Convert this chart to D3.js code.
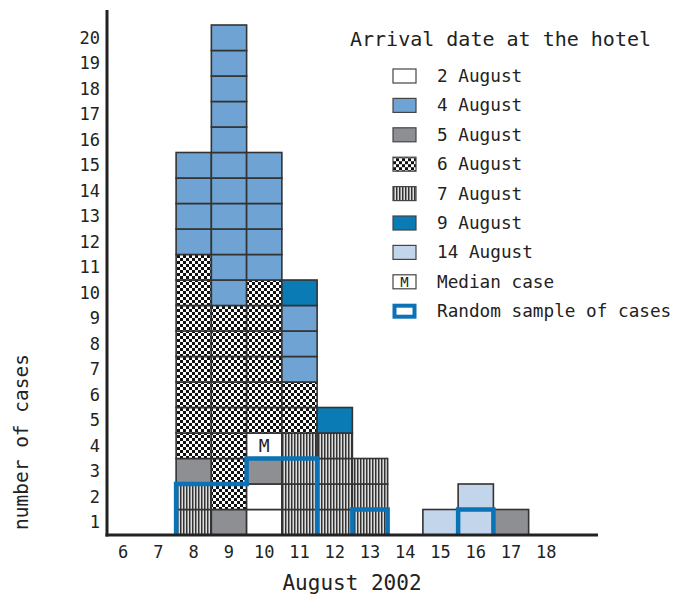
<!DOCTYPE html>
<html><head><meta charset="utf-8">
<script src="https://cdn.jsdelivr.net/npm/d3@7"></script>
<style>body{margin:0;background:#fff}svg{display:block}text{font-family:"DejaVu Sans Mono","Liberation Mono",monospace;fill:#222}</style>
</head><body><svg id="c" width="674" height="600"></svg>
<script>
// ---- data ----
const dayTicks = [6,7,8,9,10,11,12,13,14,15,16,17,18];
const yTicks = [1,2,3,4,5,6,7,8,9,10,11,12,13,14,15,16,17,18,19,20];
const categories = ["2 August","4 August","5 August","6 August","7 August","9 August","14 August"];
const caseDays = [8, 9, 10, 11, 12, 13, 15, 16, 17];
// stacks bottom→top, arrival category per case ("M" = median case)
const stack8  = ["7 August","7 August","5 August","6 August","6 August","6 August","6 August","6 August","6 August","6 August","6 August","4 August","4 August","4 August","4 August"];
const stack9  = ["5 August","6 August","6 August","6 August","6 August","6 August","6 August","6 August","6 August","4 August","4 August","4 August","4 August","4 August","4 August","4 August","4 August","4 August","4 August","4 August"];
const stack10 = ["2 August","2 August","5 August","M","6 August","6 August","6 August","6 August","6 August","6 August","4 August","4 August","4 August","4 August","4 August"];
const stack11 = ["7 August","7 August","7 August","7 August","6 August","6 August","4 August","4 August","4 August","9 August"];
const stack12 = ["7 August","7 August","7 August","7 August","9 August"];
const stack13 = ["7 August","7 August","7 August"];
const stack15 = ["14 August"];
const stack16 = ["14 August","14 August"];
const stack17 = ["5 August"];
const stacks = [stack8, stack9, stack10, stack11, stack12, stack13, stack15, stack16, stack17];
const sampleRows = [2, 2, 3, 3, 0, 1, 0, 1, 0];
const legendLabels = ["2 August","4 August","5 August","6 August","7 August","9 August","14 August","Median case","Random sample of cases"];

// ---- styles ----
const svg = d3.select("#c");
const defs = svg.append("defs");
const chk = defs.append("pattern").attr("id","chk").attr("patternUnits","userSpaceOnUse").attr("width",6).attr("height",6);
chk.append("rect").attr("width",6).attr("height",6).attr("fill","#fff");
chk.append("rect").attr("width",3).attr("height",3).attr("fill","#111");
chk.append("rect").attr("x",3).attr("y",3).attr("width",3).attr("height",3).attr("fill","#111");
const str = defs.append("pattern").attr("id","str").attr("patternUnits","userSpaceOnUse").attr("width",3).attr("height",6);
str.append("rect").attr("width",3).attr("height",6).attr("fill","#8a8a8a");
str.append("rect").attr("width",1).attr("height",6).attr("fill","#333");
str.append("rect").attr("x",2).attr("width",1).attr("height",6).attr("fill","#ddd");
const fills = {"2 August":"#ffffff","4 August":"#6fa3d3","5 August":"#8e8f93","6 August":"url(#chk)","7 August":"url(#str)","9 August":"#0b7bb5","14 August":"#c3d5eb","M":"#ffffff"};
const blue = "#0a72b5";

const x = d3.scaleBand().domain(dayTicks).range([105.6, 563.9]).paddingInner(0).paddingOuter(0);
const y = d3.scaleLinear().domain([0, 20]).range([535, 25]);

// cells
const cells = [];
caseDays.forEach((d, i) => stacks[i].forEach((c, k) => cells.push({day: d, row: k, cat: c})));
const g = svg.append("g");
g.selectAll("rect.cell").data(cells).join("rect").attr("class","cell")
  .attr("x", d => x(d.day)).attr("y", d => y(d.row + 1))
  .attr("width", x.bandwidth()).attr("height", y(0) - y(1))
  .attr("fill", d => fills[d.cat]).attr("stroke", "#333").attr("stroke-width", 1.6);
g.selectAll("text.m").data(cells.filter(d => d.cat === "M")).join("text").attr("class","m")
  .attr("x", d => x(d.day) + x.bandwidth()/2).attr("y", d => y(d.row + 0.5) + 6)
  .attr("text-anchor","middle").attr("font-size", 18).text("M");

// sample outline
let runs = [], cur = null;
caseDays.forEach((d, i) => {
  const h = sampleRows[i];
  if (h > 0 && cur && dayTicks.indexOf(d) === dayTicks.indexOf(cur[cur.length-1].day) + 1) cur.push({day: d, h});
  else if (h > 0) { cur = [{day: d, h}]; runs.push(cur); }
  else cur = null;
});
runs.forEach(r => {
  const pts = [[x(r[0].day), y(0)]];
  r.forEach(c => { pts.push([x(c.day), y(c.h)]); pts.push([x(c.day) + x.bandwidth(), y(c.h)]); });
  pts.push([x(r[r.length-1].day) + x.bandwidth(), y(0)]);
  svg.append("path").attr("d", d3.line()(pts)).attr("fill","none").attr("stroke", blue).attr("stroke-width", 4.5).attr("stroke-linejoin","miter");
});

// axes
svg.append("line").attr("x1",107).attr("x2",107).attr("y1",10).attr("y2",536.5).attr("stroke","#222").attr("stroke-width",3);
svg.append("line").attr("x1",105.5).attr("x2",598).attr("y1",535).attr("y2",535).attr("stroke","#222").attr("stroke-width",3);
svg.selectAll("text.yt").data(yTicks).join("text").attr("class","yt")
  .attr("x", 100).attr("y", d => y(d - 0.5) + 6).attr("text-anchor","end").attr("font-size",17).text(d => d);
svg.selectAll("text.xt").data(dayTicks).join("text").attr("class","xt")
  .attr("x", d => x(d) + x.bandwidth()/2).attr("y", 558).attr("text-anchor","middle").attr("font-size",17).text(d => d);
svg.append("text").attr("x", 352).attr("y", 590).attr("text-anchor","middle").attr("font-size",21).text("August 2002");
svg.append("text").attr("transform","translate(28,442) rotate(-90)").attr("text-anchor","middle").attr("font-size",19.5).text("number of cases");

// legend
svg.append("text").attr("x", 350).attr("y", 46).attr("font-size", 20).text("Arrival date at the hotel");
const ly = i => 76 + i * 29.4;
const lg = svg.selectAll("g.lg").data(legendLabels).join("g").attr("class","lg").attr("transform",(d,i)=>`translate(0,${ly(i)})`);
lg.each(function(d, i) {
  const s = d3.select(this);
  if (i < categories.length) {
    s.append("rect").attr("x",393).attr("y",-7).attr("width",23).attr("height",14).attr("fill",fills[categories[i]]).attr("stroke","#444").attr("stroke-width",1.2);
  } else if (i === categories.length) {
    s.append("rect").attr("x",393).attr("y",-7).attr("width",23).attr("height",14).attr("fill","#fff").attr("stroke","#444").attr("stroke-width",1.2);
    s.append("text").attr("x",404.5).attr("y",5.5).attr("text-anchor","middle").attr("font-size",14).text("M");
  } else {
    s.append("rect").attr("x",394.5).attr("y",-5.5).attr("width",20).attr("height",11).attr("fill","#fff").attr("stroke",blue).attr("stroke-width",4);
  }
  s.append("text").attr("x",437).attr("y",6).attr("font-size",17.7).text(d);
});
</script></body></html>
